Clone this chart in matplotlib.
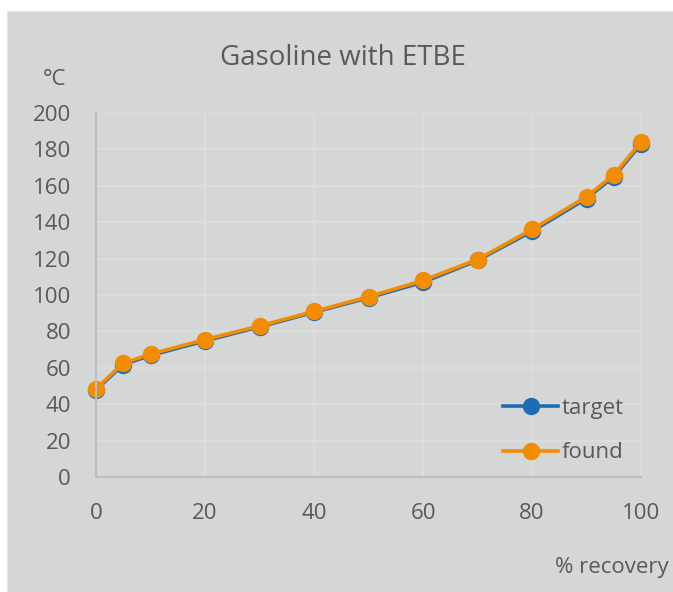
import matplotlib
matplotlib.use("Agg")
import matplotlib.pyplot as plt
from matplotlib.patches import Rectangle

recovery = [0, 5, 10, 20, 30, 40, 50, 60, 70, 80, 90, 95, 100]
target = [47.8, 61.8, 66.8, 74.8, 82.5, 90.5, 98.5, 107, 119, 135, 153, 165, 183]
found = [48.5, 62.5, 67.5, 75.5, 83, 91, 99, 108, 119.5, 136, 154, 166, 184]
xticks = [0, 20, 40, 60, 80, 100]
yticks = list(range(0, 201, 20))

plt.rcParams['font.family'] = ['Open Sans', 'DejaVu Sans']

W, H = 673, 592
fig = plt.figure(figsize=(W / 100, H / 100), dpi=100)
fig.patch.set_facecolor('white')
bg = '#d5d6d6'
fig.patches.append(Rectangle((7 / W, 0), (W - 7) / W, (H - 11) / H,
                             transform=fig.transFigure, facecolor=bg,
                             edgecolor='#e4e4e4', linewidth=0.8, zorder=-10))

ax = fig.add_axes([96 / W, 1 - 477 / H, (641 - 96) / W, (477 - 113) / H])
ax.set_facecolor(bg)
ax.set_xlim(0, 100)
ax.set_ylim(0, 200)
ax.set_xticks(xticks)
ax.set_yticks(yticks)
ax.grid(True, color='#dedfdf', linewidth=1.1)
ax.set_axisbelow(True)
for s in ['top', 'right']:
    ax.spines[s].set_visible(False)
for s in ['left', 'bottom']:
    ax.spines[s].set_color('#bdbdbd')
    ax.spines[s].set_linewidth(1.5)
ax.tick_params(length=0, labelsize=16, labelcolor='#595959')
ax.tick_params(axis='y', pad=18)
ax.tick_params(axis='x', pad=19)

blue = '#1f6cb6'
orange = '#f28c00'
ax.plot(recovery, target, color=blue, linewidth=2.6,
        marker='o', markersize=11.5, label='target', clip_on=False)
ax.plot(recovery, found, color=orange, linewidth=2.6, marker='o',
        markersize=11.5, label='found', clip_on=False)

leg = ax.legend(loc='upper left', bbox_to_anchor=(503 / W, 1 - 398 / H),
                bbox_transform=fig.transFigure, borderaxespad=0, borderpad=0,
                frameon=False, fontsize=16, labelcolor='#595959',
                handlelength=2.48, labelspacing=1.05, handletextpad=0.18)

fig.text(343 / W, 1 - 65 / H, 'Gasoline with ETBE', ha='center', va='baseline',
         fontsize=20, color='#595959')
fig.text(55 / W, 1 - 85 / H, '°C', ha='center', va='baseline',
         fontsize=16, color='#595959')
fig.text(669 / W, 1 - 573 / H, '% recovery', ha='right', va='baseline',
         fontsize=16, color='#595959')

fig.savefig('out.png', dpi=100, facecolor=fig.get_facecolor())
